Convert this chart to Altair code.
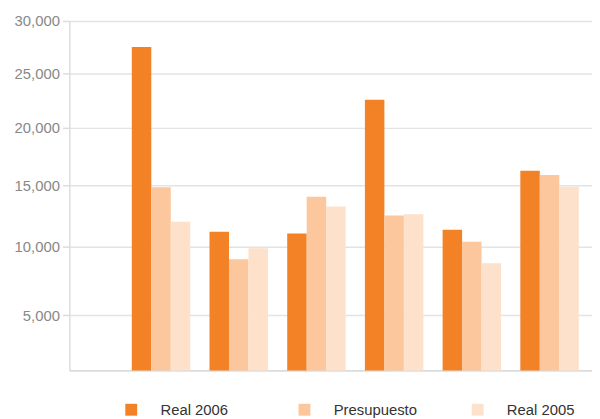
import altair as alt
import pandas as pd

categories = ["1", "2", "3", "4", "5", "6"]
series = ["Real 2006", "Presupuesto", "Real 2005"]
real_2006 = [27500, 11200, 11050, 22550, 11350, 16250]
presupuesto = [14850, 9050, 14050, 12500, 10400, 15900]
real_2005 = [12000, 9900, 13250, 12600, 8750, 14900]
colors = ["#f38226", "#fcc79c", "#fde1ca"]
y_ticks = [5000, 10000, 15000, 20000, 25000, 30000]

rows = []
for s, vals in zip(series, [real_2006, presupuesto, real_2005]):
    for c, v in zip(categories, vals):
        rows.append({"grupo": c, "serie": s, "valor": v})
df = pd.DataFrame(rows)

FONT = "Liberation Sans"

chart = alt.Chart(df).mark_bar(clip=True).encode(
    x=alt.X(
        "grupo:N",
        sort=categories,
        scale=alt.Scale(paddingInner=0.248, paddingOuter=0.487, align=0.825),
        axis=alt.Axis(title=None, labels=False, ticks=False, grid=False,
                      domainColor="#dcdcdc", domainWidth=2),
    ),
    xOffset=alt.XOffset("serie:N", sort=series,
                        scale=alt.Scale(paddingInner=0, paddingOuter=0)),
    y=alt.Y(
        "valor:Q",
        scale=alt.Scale(type="pow", exponent=0.8, domain=[1600, 30000],
                        zero=False, nice=False),
        axis=alt.Axis(title=None, values=y_ticks, format=",d",
                      domainColor="#dcdcdc", domainWidth=1.5,
                      tickColor="#dcdcdc", tickSize=7, tickWidth=1.5,
                      gridColor="#e3e3e3", gridWidth=1.5,
                      labelColor="#888888", labelFontSize=15, labelFont=FONT,
                      labelPadding=3),
    ),
    color=alt.Color(
        "serie:N",
        sort=series,
        scale=alt.Scale(domain=series, range=colors),
        legend=alt.Legend(title=None, orient="none", legendX=55, legendY=385,
                          direction="horizontal", columns=3, gridAlign="all",
                          columnPadding=53, symbolType="square", symbolSize=144,
                          symbolStrokeWidth=0, labelFont=FONT, labelFontSize=15,
                          labelColor="#333333", labelOffset=22, padding=0),
    ),
).properties(
    width=528,
    height=353,
    autosize=alt.AutoSizeParams(type="none"),
    padding={"left": 62, "top": 11, "right": 0, "bottom": 46},
).configure_view(stroke=None)

chart.save("out.html", embed_options={"renderer": "svg", "actions": False})
